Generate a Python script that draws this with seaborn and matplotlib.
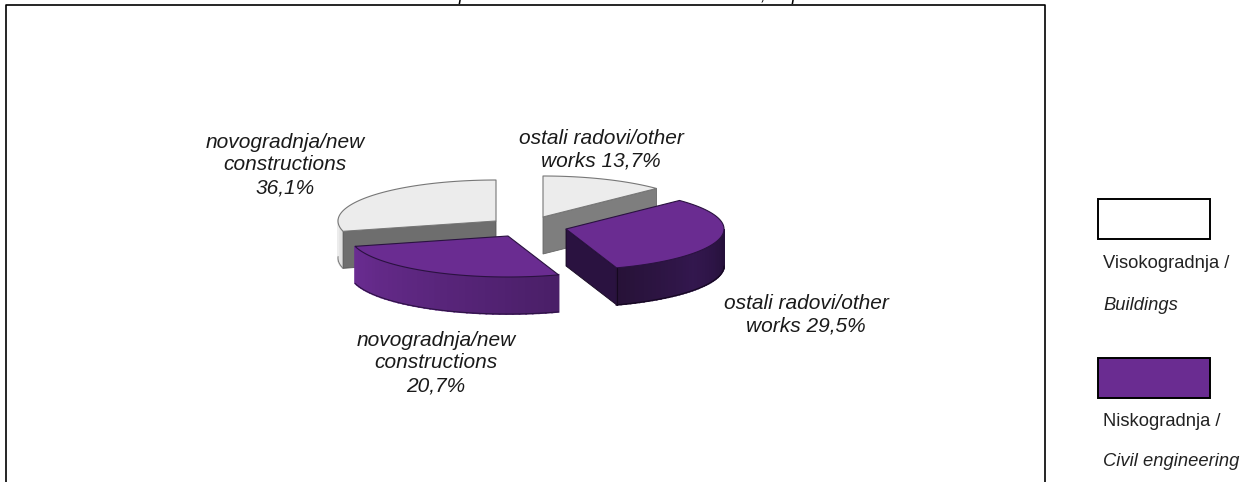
import matplotlib
matplotlib.use("Agg")
import matplotlib.pyplot as plt
from matplotlib.colors import to_rgb
import numpy as np
import seaborn as sns

# slices clockwise from 12 o'clock
names = ["ostali radovi/other\nworks", "ostali radovi/other\nworks",
         "novogradnja/new\nconstructions\n", "novogradnja/new\nconstructions\n"]
shares = [13.7, 29.5, 20.7, 36.1]
groups = ["Visokogradnja", "Niskogradnja", "Niskogradnja", "Visokogradnja"]
legend_regular = ["Visokogradnja /", "Niskogradnja /"]
legend_italic = ["Buildings", "Civil engineering"]

sns.set_theme(style="white")
plt.rcParams["font.family"] = ["Liberation Sans", "DejaVu Sans"]

PURPLE = "#6a2c91"
A, B, DEPTH = 158, 41, 37
# exploded centre of each slice, in pixels
centres = [(543, 217), (566, 229), (508, 236), (496, 221)]
label_pos = [(601, 150), (806, 315), (436, 363), (285, 165)]


def warp(t):
    # the source's 3D view stretches the front-left of the pie
    r = np.radians(t)
    return t + 22 * ((1 + np.cos(r - np.radians(235))) / 2) ** 2 - 4.5 * np.sin(r)


def rim(cx, cy, t):
    r = np.radians(t)
    return cx + A * np.sin(r), cy - B * np.cos(r)


def mix(c1, c2, f):
    return tuple((1 - f) * np.array(to_rgb(c1)) + f * np.array(to_rgb(c2)))


edges = np.concatenate([[0], np.cumsum(shares)]) * 3.6
starts = warp(edges[:-1])
ends = warp(edges[1:])
starts[0], ends[-1] = 0, 360

fig = plt.figure(figsize=(12.43, 4.82), dpi=100)
ax = fig.add_axes([0, 0, 1, 1])
ax.set_xlim(0, 1243)
ax.set_ylim(482, 0)
ax.axis("off")

# frame is cut off at the bottom of the page
ax.plot([6, 6, 1045, 1045], [482, 4.5, 4.5, 482], color="black", lw=1.2, solid_capstyle="butt")
for x, s in [(463, "p"), (763, ","), (796, "p")]:
    ax.text(x, 0.5, s, fontsize=13, style="italic", ha="center", va="baseline", color="black")


def draw_rim(cx, cy, t0, t1, colours):
    ts = np.linspace(t0, t1, 40)
    for i in range(len(ts) - 1):
        x0, y0 = rim(cx, cy, ts[i])
        x1, y1 = rim(cx, cy, ts[i + 1])
        f = i / (len(ts) - 2)
        if len(colours) == 3:
            col = mix(colours[0], colours[1], 2 * f) if f < 0.5 else mix(colours[1], colours[2], 2 * f - 1)
        else:
            col = mix(colours[0], colours[1], f)
        ax.fill([x0, x1, x1, x0], [y0, y1, y1 + DEPTH, y0 + DEPTH], color=col, lw=1.3)
    x, y = rim(cx, cy, ts)
    return x, y + DEPTH


def draw_top(cx, cy, t0, t1, face, edge):
    x, y = rim(cx, cy, np.linspace(t0, t1, 120))
    ax.fill(np.r_[cx, x], np.r_[cy, y], facecolor=face, edgecolor=edge, lw=0.8, joinstyle="round")


def draw_cut(cx, cy, t, face, edge):
    x, y = rim(cx, cy, t)
    ax.fill([cx, x, x, cx], [cy, y, y + DEPTH, cy + DEPTH], facecolor=face, edgecolor=edge, lw=0.6)


# back slices first
cx, cy = centres[3]
bx, by = draw_rim(cx, cy, starts[3], 272, ["#dcdcdc", "#ececec"])
ax.plot(bx, by, color="#777777", lw=0.7)
draw_cut(cx, cy, starts[3], "#6e6e6e", "#555555")
draw_top(cx, cy, starts[3], ends[3], "#ececec", "#777777")

cx, cy = centres[0]
draw_cut(cx, cy, ends[0], "#7e7e7e", "#666666")
draw_top(cx, cy, starts[0], ends[0], "#ececec", "#777777")

cx, cy = centres[1]
draw_cut(cx, cy, ends[1], "#2a1240", "#150820")
bx, by = draw_rim(cx, cy, ends[1], 90, ["#271238", "#33174e", "#25103a"])
ax.plot(bx, by, color="#150820", lw=0.8)
x, y = rim(cx, cy, ends[1])
ax.plot([x, x], [y, y + DEPTH], color="#150820", lw=0.8)
draw_top(cx, cy, starts[1], ends[1], PURPLE, "#2a1240")

cx, cy = centres[2]
bx, by = draw_rim(cx, cy, ends[2], starts[2], [PURPLE, "#4a1f68"])
ax.plot(bx, by, color="#2a1240", lw=0.7)
draw_top(cx, cy, starts[2], ends[2], PURPLE, "#2a1240")

for name, share, (x, y) in zip(names, shares, label_pos):
    sep = "" if name.endswith("\n") else " "
    label = f"{name}{sep}{share:.1f}%".replace(".", ",")
    ax.text(x, y, label, fontsize=15, style="italic", ha="center", va="center",
            linespacing=1.24, color="#1a1a1a")

# legend
for y0, y1, face, reg, ita, yr, yi in [
    (198.5, 239, "white", legend_regular[0], legend_italic[0], 263, 305),
    (357.5, 398, PURPLE, legend_regular[1], legend_italic[1], 421, 461),
]:
    ax.fill([1098.5, 1210, 1210, 1098.5], [y0, y0, y1, y1], facecolor=face, edgecolor="black", lw=1.4)
    ax.text(1103, yr, reg, fontsize=13.2, ha="left", va="center", color="#222222")
    ax.text(1103, yi, ita, fontsize=13.2, style="italic", ha="left", va="center", color="#222222")

fig.savefig("out.png", dpi=100)
